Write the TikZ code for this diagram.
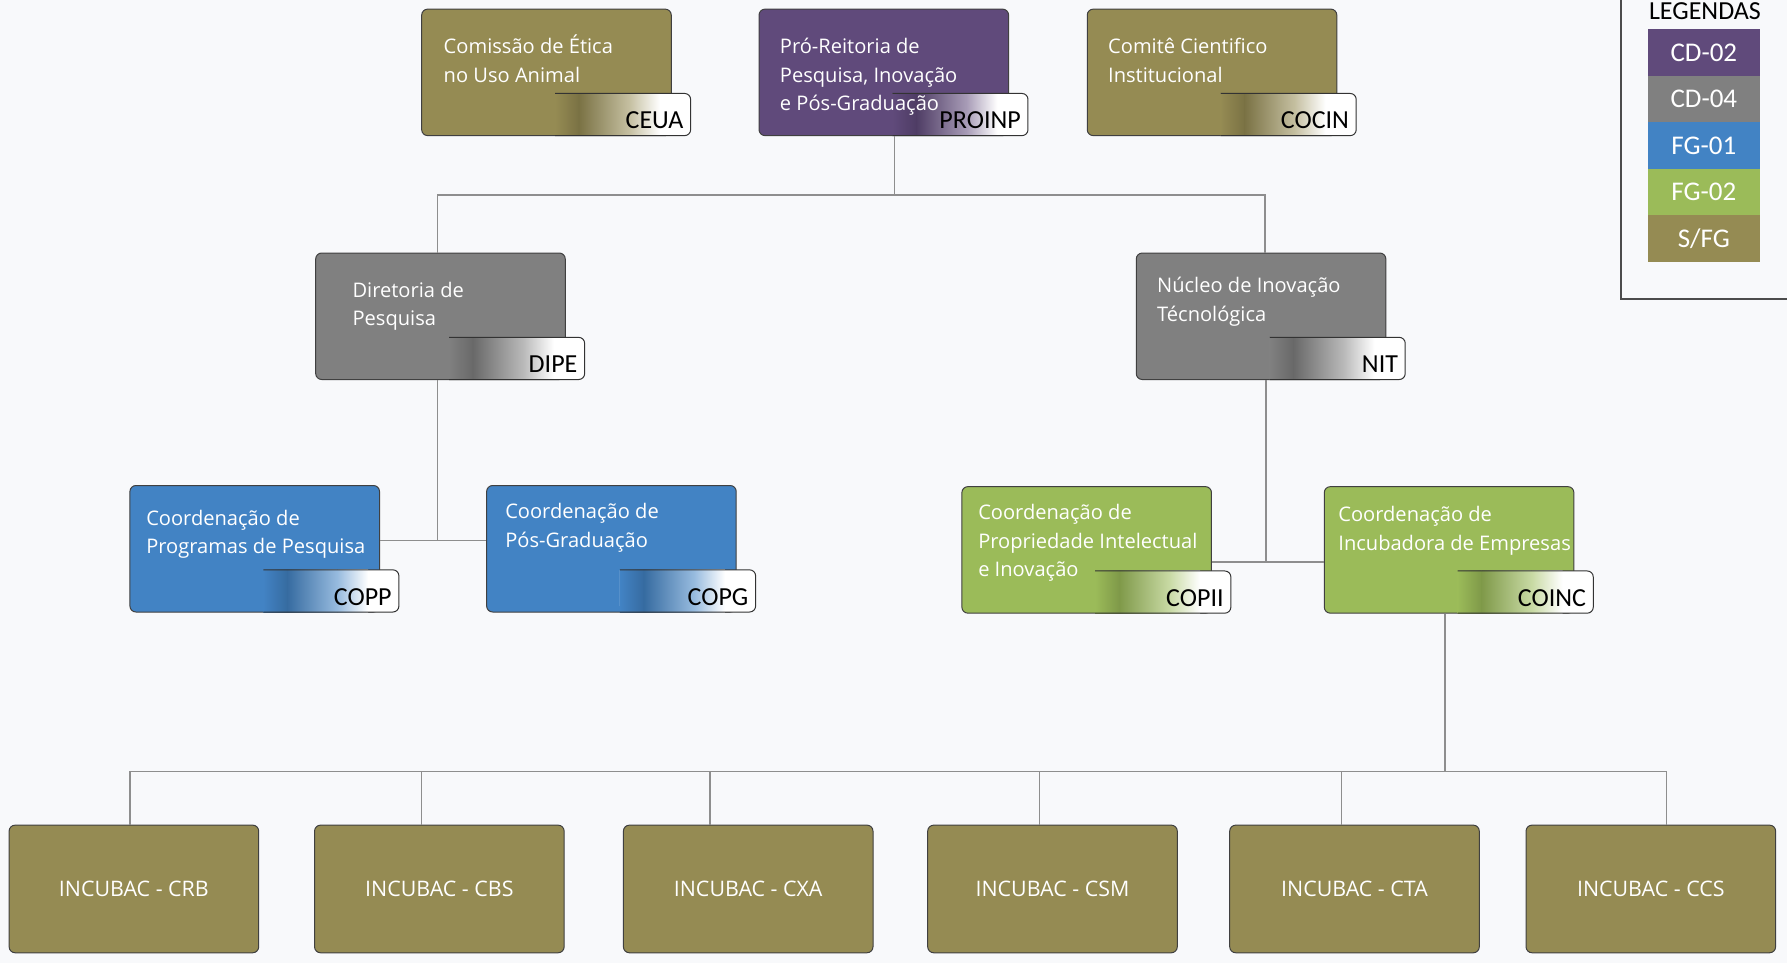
\documentclass[tikz,border=0pt]{standalone}
\usepackage{fontspec}
\setmainfont{Open Sans}
\newfontfamily\tabfont{Carlito}
\definecolor{bg}{HTML}{F8F9FB}
\definecolor{cOlive}{HTML}{958B53}
\definecolor{cPurple}{HTML}{604A7B}
\definecolor{cGray}{HTML}{808080}
\definecolor{cBlue}{HTML}{4283C4}
\definecolor{cGreen}{HTML}{9BBB59}
\definecolor{lineGray}{HTML}{8E8E8E}
\colorlet{tabc}{cOlive}
\colorlet{tabd}{cOlive}
\colorlet{tabe}{cOlive}
\def\pxu{0.56985pt}
\tikzset{
  orgbox/.style={draw=black!75, line width=0.5pt, rounded corners=3pt, minimum width=219*\pxu, minimum height=111*\pxu, inner sep=0pt},
  conn/.style={draw=lineGray, line width=0.7pt},
  tabline/.style={draw=black!80, line width=0.5pt},
  bodytext/.style={inner sep=0pt, text=white, font=\fontsize{10.05}{14.25}\selectfont},
  abbrtext/.style={inner sep=0pt, text=black, font=\tabfont\fontsize{13}{15}\selectfont},
  bottomtext/.style={text=white, font=\fontsize{10.7}{12}\selectfont},
  swatch/.style={inner sep=0pt, minimum width=98*\pxu, text=white, font=\tabfont\fontsize{13.5}{15}\selectfont},
  legframe/.style={draw=black!70, line width=1pt}
}
% #1 name, #2 x1, #3 y1, #4 colour, #5 text dx, #6 first baseline dy, #7 text, #8 abbreviation
\newcommand{\OrgUnit}[8]{%
  \node[orgbox, fill=#4] (#1) at (#2+109.5,#3+55.5) {};
  \colorlet{tabc}{#4}\colorlet{tabd}{#4!82!black}\colorlet{tabe}{#4!55!white}%
  \fill[white] (#2+117,#3+74) [rounded corners=3pt] -- (#2+236,#3+74) -- (#2+236,#3+111) -- (#2+117,#3+111) [sharp corners] -- cycle;
  \shade[left color=tabc, right color=tabd] (#2+117,#3+74) rectangle (#2+138,#3+111);
  \shade[left color=tabd, right color=tabe] (#2+138,#3+74) rectangle (#2+182,#3+111);
  \shade[left color=tabe, right color=white] (#2+182,#3+74) rectangle (#2+209,#3+111);
  \draw[tabline] (#2+117,#3+74) [rounded corners=3pt] -- (#2+236,#3+74) -- (#2+236,#3+111) -- (#2+117,#3+111);
  \node[bodytext, anchor=base west] (#1-t) at (#2+#5,#3+#6) {\begin{tabular}[t]{@{}l@{}}#7\end{tabular}};
  \node[abbrtext, anchor=base east] (#1-a) at (#2+230,#3+105) {#8};
}
\begin{document}
\begin{tikzpicture}[x=0.56985pt, y=-0.56985pt]
\useasboundingbox (0,0) rectangle (1568,845);
\fill[bg] (0,0) rectangle (1568,845);

% legend
\draw[legframe] (1422.5,0) -- (1422.5,262.4) -- (1568,262.4);
\node[anchor=base, inner sep=0pt, font=\tabfont\fontsize{13}{15}\selectfont] (legt) at (1496,17.5) {LEGENDAS};
\node[swatch, fill=cPurple, minimum height=41.2*\pxu] (lg1) at (1495,46.1) {CD-02};
\node[swatch, fill=cGray, minimum height=40.3*\pxu] (lg2) at (1495,86.85) {CD-04};
\node[swatch, fill=cBlue, minimum height=41.3*\pxu] (lg3) at (1495,127.65) {FG-01};
\node[swatch, fill=cGreen, minimum height=40.4*\pxu] (lg4) at (1495,168.5) {FG-02};
\node[swatch, fill=cOlive, minimum height=40.9*\pxu] (lg5) at (1495,209.15) {S/FG};

% units
\OrgUnit{ceua}{370}{8}{cOlive}{19}{39}{Comissão de Ética\\no Uso Animal}{CEUA}
\OrgUnit{proinp}{666}{8}{cPurple}{18}{39}{Pró-Reitoria de\\Pesquisa, Inovação\\e Pós-Graduação}{PROINP}
\OrgUnit{cocin}{954}{8}{cOlive}{18}{39}{Comitê Cientifico\\Institucional}{COCIN}
\OrgUnit{dipe}{277}{222}{cGray}{32}{39}{Diretoria de\\Pesquisa}{DIPE}
\OrgUnit{nit}{997}{222}{cGray}{18}{35}{Núcleo de Inovação\\Técnológica}{NIT}
\OrgUnit{copp}{114}{426}{cBlue}{14}{35}{Coordenação de\\Programas de Pesquisa}{COPP}
\OrgUnit{copg}{427}{426}{cBlue}{16}{29}{Coordenação de\\Pós-Graduação}{COPG}
\OrgUnit{copii}{844}{427}{cGreen}{14}{29}{Coordenação de\\Propriedade Intelectual\\e Inovação}{COPII}
\OrgUnit{coinc}{1162}{427}{cGreen}{12}{31}{Coordenação de\\Incubadora de Empresas}{COINC}

% bottom row
\node[orgbox, fill=cOlive, minimum height=112*\pxu, bottomtext] (crb) at (117.5,780) {INCUBAC - CRB};
\node[orgbox, fill=cOlive, minimum height=112*\pxu, bottomtext] (cbs) at (385.5,780) {INCUBAC - CBS};
\node[orgbox, fill=cOlive, minimum height=112*\pxu, bottomtext] (cxa) at (656.5,780) {INCUBAC - CXA};
\node[orgbox, fill=cOlive, minimum height=112*\pxu, bottomtext] (csm) at (923.5,780) {INCUBAC - CSM};
\node[orgbox, fill=cOlive, minimum height=112*\pxu, bottomtext] (cta) at (1188.5,780) {INCUBAC - CTA};
\node[orgbox, fill=cOlive, minimum height=112*\pxu, bottomtext] (ccs) at (1448.5,780) {INCUBAC - CCS};

% connector junctions
\coordinate (tA) at (785,171);
\coordinate (tL) at (384,171);
\coordinate (tR) at (1110,171);
\coordinate (mL) at (384,474);
\coordinate (mR) at (1111,493);
\coordinate (bA) at (1268,677);
\coordinate (b1) at (114,677);
\coordinate (b2) at (370,677);
\coordinate (b3) at (623,677);
\coordinate (b4) at (912,677);
\coordinate (b5) at (1177,677);
\coordinate (b6) at (1462,677);

\draw[conn] (proinp.south -| tA) -- (tA);
\draw[conn] (dipe.north -| tL) -- (tL) -- (tR) -- (nit.north -| tR);
\draw[conn] (dipe.south -| mL) -- (mL);
\draw[conn] (copp.east |- mL) -- (copg.west |- mL);
\draw[conn] (nit.south -| mR) -- (mR);
\draw[conn] (copii.east |- mR) -- (coinc.west |- mR);
\draw[conn] (coinc.south -| bA) -- (bA);
\draw[conn] (crb.north -| b1) -- (b1) -- (b6) -- (ccs.north -| b6);
\draw[conn] (cbs.north -| b2) -- (b2);
\draw[conn] (cxa.north -| b3) -- (b3);
\draw[conn] (csm.north -| b4) -- (b4);
\draw[conn] (cta.north -| b5) -- (b5);
\end{tikzpicture}
\end{document}
